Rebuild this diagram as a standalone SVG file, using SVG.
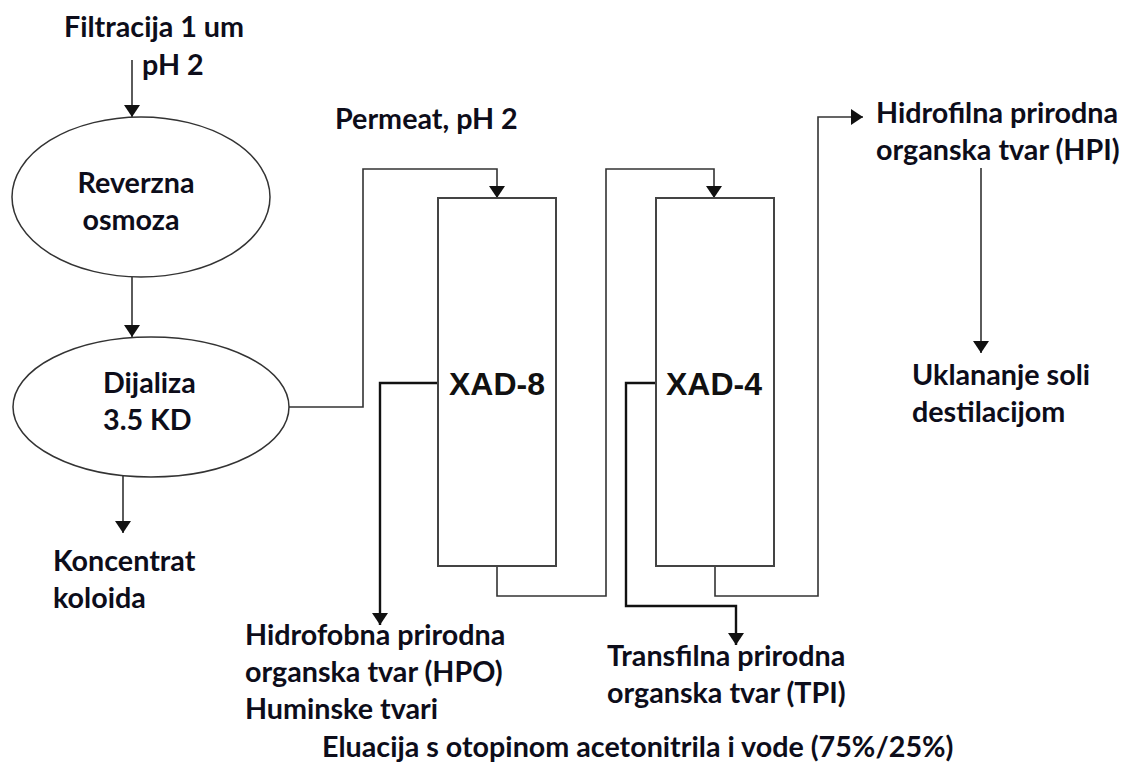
<svg xmlns="http://www.w3.org/2000/svg" width="1124" height="762" viewBox="0 0 1124 762">
<style>
  .lbl { font-family: Lato, "Open Sans", sans-serif; font-weight: bold; font-size: 28.7px; fill: #0d0d1a; }
  .col { font-family: "Liberation Sans", Arial, sans-serif; font-weight: bold; font-size: 32px; fill: #111; }
  .shape { fill: #fff; stroke: #333; stroke-width: 1.5; }
  .box { fill: #fff; stroke: #444; stroke-width: 2; }
  .con { fill: none; stroke: #333; stroke-width: 1.6; }
  .conb { fill: none; stroke: #111; stroke-width: 2.4; }
</style>
<defs>
  <marker id="ah" viewBox="0 0 12 16" refX="12" refY="8" markerWidth="12" markerHeight="16" markerUnits="userSpaceOnUse" orient="auto">
    <path d="M0,0 L12,8 L0,16 z" fill="#111"/>
  </marker>
</defs>
<rect width="1124" height="762" fill="#fff"/>

<g id="connectors">
  <path class="con" d="M132,60 V117" marker-end="url(#ah)"/>
  <path class="con" d="M132,277 V337" marker-end="url(#ah)"/>
  <path class="con" d="M123,467 V533" marker-end="url(#ah)"/>
  <path class="con" d="M289,407 H363 V169 H497 V198" marker-end="url(#ah)"/>
  <path class="con" d="M497,566 V596 H606 V169 H714 V198" marker-end="url(#ah)"/>
  <path class="con" d="M715,566 V596 H818 V117 H863" marker-end="url(#ah)"/>
  <path class="con" d="M981,168 V353" marker-end="url(#ah)"/>
  <path class="conb" d="M438,383 H380 V625" marker-end="url(#ah)"/>
  <path class="conb" d="M656,383 H626 V606 H736 V645" marker-end="url(#ah)"/>
</g>

<g id="node-filtracija">
  <text class="lbl" x="154" y="37" text-anchor="middle">Filtracija 1 um</text>
  <text class="lbl" x="142" y="75">pH 2</text>
</g>

<g id="node-reverzna-osmoza">
  <ellipse class="shape" cx="141" cy="197" rx="129" ry="80"/>
  <text class="lbl" x="136" y="193" text-anchor="middle">Reverzna</text>
  <text class="lbl" x="131" y="230" text-anchor="middle">osmoza</text>
</g>

<g id="node-dijaliza">
  <ellipse class="shape" cx="151" cy="407" rx="138" ry="70"/>
  <text class="lbl" x="103" y="393">Dijaliza</text>
  <text class="lbl" x="103" y="430">3.5 KD</text>
</g>

<g id="node-permeat">
  <text class="lbl" x="335" y="129">Permeat, pH 2</text>
</g>

<g id="node-koncentrat">
  <text class="lbl" x="53" y="571">Koncentrat</text>
  <text class="lbl" x="53" y="608">koloida</text>
</g>

<g id="node-xad8">
  <rect class="box" x="438" y="198" width="118" height="368"/>
  <text class="col" x="497" y="395" text-anchor="middle">XAD-8</text>
</g>

<g id="node-xad4">
  <rect class="box" x="656" y="198" width="118" height="368"/>
  <text class="col" x="714" y="395" text-anchor="middle">XAD-4</text>
</g>

<g id="node-hpo">
  <text class="lbl" x="245" y="645">Hidrofobna prirodna</text>
  <text class="lbl" x="245" y="682">organska tvar (HPO)</text>
  <text class="lbl" x="245" y="719">Huminske tvari</text>
</g>

<g id="node-tpi">
  <text class="lbl" x="607" y="666">Transfilna prirodna</text>
  <text class="lbl" x="607" y="703">organska tvar (TPI)</text>
</g>

<g id="node-hpi">
  <text class="lbl" x="876" y="123">Hidrofilna prirodna</text>
  <text class="lbl" x="876" y="160">organska tvar (HPI)</text>
</g>

<g id="node-uklananje">
  <text class="lbl" x="912" y="385">Uklananje soli</text>
  <text class="lbl" x="912" y="422">destilacijom</text>
</g>

<g id="node-eluacija">
  <text class="lbl" x="322" y="757">Eluacija s otopinom acetonitrila i vode (75%/25%)</text>
</g>
</svg>
